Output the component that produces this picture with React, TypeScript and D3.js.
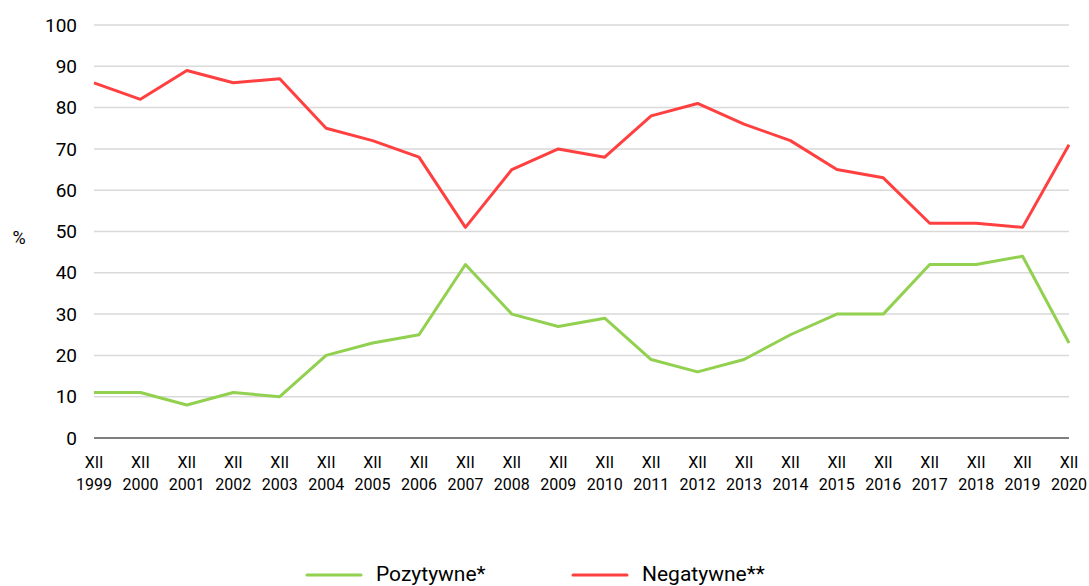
import React from "react";
import * as d3 from "d3";

const years = ["1999","2000","2001","2002","2003","2004","2005","2006","2007","2008","2009","2010","2011","2012","2013","2014","2015","2016","2017","2018","2019","2020"];
const positive = [11,11,8,11,10,20,23,25,42,30,27,29,19,16,19,25,30,30,42,42,44,23];
const negative = [86,82,89,86,87,75,72,68,51,65,70,68,78,81,76,72,65,63,52,52,51,71];
const yTicks = [0,10,20,30,40,50,60,70,80,90,100];
const seriesNames = ["Pozytywne*", "Negatywne**"];
const colors = ["#92D050", "#FF4040"];

export default function App() {
  const W = 1089, H = 586;
  const x = d3.scalePoint<string>().domain(years).range([94, 1069]);
  const y = d3.scaleLinear().domain([0, 100]).range([438, 25]);
  const line = d3.line<number>().x((_, i) => x(years[i]) as number).y(d => y(d));
  const font = "Roboto, 'Noto Sans', sans-serif";
  return (
    <svg width={W} height={H} style={{ position: "absolute", left: 0, top: 0 }} fontFamily={font}>
      {yTicks.map(t => (
        <g key={t}>
          {t !== 0 && <line x1={94} x2={1069} y1={y(t)} y2={y(t)} stroke="#D9D9D9" strokeWidth={1.5} />}
          <text x={77} y={y(t)} dy="0.35em" textAnchor="end" fontSize={19} fill="#000">{t}</text>
        </g>
      ))}
      <line x1={94} x2={1069} y1={y(0)} y2={y(0)} stroke="#000" strokeWidth={1.2} />
      <text x={19} y={238} dy="0.35em" textAnchor="middle" fontSize={18} fill="#000">%</text>
      {years.map(yr => (
        <g key={yr}>
          <text x={x(yr)} y={468} textAnchor="middle" fontSize={16} fill="#000">XII</text>
          <text x={x(yr)} y={490} textAnchor="middle" fontSize={16} fill="#000">{yr}</text>
        </g>
      ))}
      <path d={line(positive) || ""} fill="none" stroke={colors[0]} strokeWidth={3} strokeLinejoin="round" />
      <path d={line(negative) || ""} fill="none" stroke={colors[1]} strokeWidth={3} strokeLinejoin="round" />
      {seriesNames.map((n, i) => {
        const lx = 307 + i * 266;
        return (
          <g key={n}>
            <line x1={lx} x2={lx + 54} y1={575} y2={575} stroke={colors[i]} strokeWidth={3} strokeLinecap="round" />
            <text x={lx + 69} y={581} fontSize={21} fill="#000">{n}</text>
          </g>
        );
      })}
    </svg>
  );
}
